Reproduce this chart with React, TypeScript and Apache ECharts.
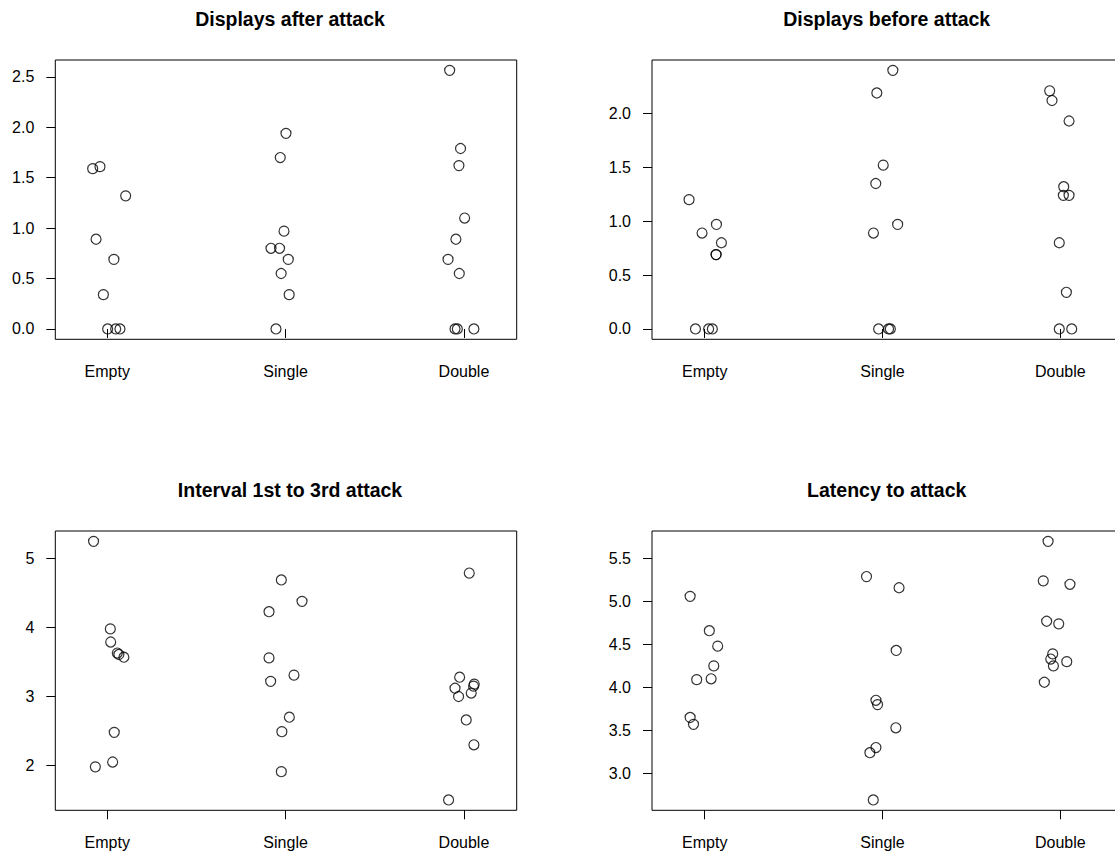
import React, { useEffect, useRef } from "react";
import * as echarts from "echarts";

const categories = ["Empty", "Single", "Double"];

const titles = [
  "Displays after attack",
  "Displays before attack",
  "Interval 1st to 3rd attack",
  "Latency to attack",
];

// values per group (Empty, Single, Double)
const afterAttackY = [
  [1.59, 1.61, 1.32, 0.89, 0.69, 0.34, 0, 0, 0],
  [1.94, 1.7, 0.97, 0.8, 0.8, 0.69, 0.55, 0.34, 0],
  [2.565, 1.79, 1.62, 1.1, 0.89, 0.69, 0.55, 0, 0, 0],
];
const afterAttackJitter = [
  [-0.082, -0.041, 0.103, -0.063, 0.037, -0.022, 0.002, 0.047, 0.071],
  [0.002, -0.03, -0.009, -0.082, -0.034, 0.015, -0.025, 0.02, -0.054],
  [-0.08, -0.019, -0.028, 0.004, -0.045, -0.089, -0.026, -0.05, -0.037, 0.056],
];

const beforeAttackY = [
  [1.2, 0.89, 0.97, 0.8, 0.69, 0.69, 0, 0, 0],
  [2.4, 2.19, 1.52, 1.35, 0.89, 0.97, 0, 0, 0],
  [2.21, 2.12, 1.93, 1.32, 1.24, 1.24, 0.8, 0.34, 0, 0],
];
const beforeAttackJitter = [
  [-0.088, -0.015, 0.066, 0.094, 0.064, 0.064, -0.052, 0.022, 0.043],
  [0.058, -0.032, 0.004, -0.038, -0.051, 0.085, -0.022, 0.034, 0.044],
  [-0.06, -0.047, 0.049, 0.019, 0.017, 0.049, -0.006, 0.034, -0.006, 0.064],
];

const intervalY = [
  [5.25, 3.98, 3.79, 3.63, 3.61, 3.57, 2.48, 2.05, 1.98],
  [4.69, 4.38, 4.23, 3.56, 3.22, 3.31, 2.7, 2.49, 1.91],
  [4.79, 3.28, 3.12, 3.0, 3.18, 3.15, 3.05, 2.66, 2.3, 1.5],
];
const intervalJitter = [
  [-0.077, 0.017, 0.019, 0.056, 0.065, 0.093, 0.039, 0.03, -0.067],
  [-0.024, 0.092, -0.093, -0.093, -0.084, 0.047, 0.021, -0.021, -0.024],
  [0.03, -0.024, -0.05, -0.03, 0.058, 0.054, 0.041, 0.013, 0.056, -0.086],
];

const latencyY = [
  [5.06, 4.66, 4.48, 4.25, 4.09, 4.1, 3.65, 3.57],
  [5.29, 5.16, 4.43, 3.85, 3.8, 3.53, 3.3, 3.24, 2.69],
  [5.7, 5.24, 5.2, 4.77, 4.74, 4.39, 4.33, 4.25, 4.3, 4.06],
];
const latencyJitter = [
  [-0.082, 0.026, 0.073, 0.051, -0.045, 0.036, -0.082, -0.063],
  [-0.09, 0.093, 0.077, -0.037, -0.028, 0.075, -0.037, -0.071, -0.052],
  [-0.069, -0.096, 0.054, -0.077, -0.009, -0.043, -0.054, -0.039, 0.036, -0.09],
];

const afterTicks = [0, 0.5, 1, 1.5, 2, 2.5];
const beforeTicks = [0, 0.5, 1, 1.5, 2];
const intervalTicks = [2, 3, 4, 5];
const latencyTicks = [3, 3.5, 4, 4.5, 5, 5.5];

const FONT = "'Liberation Sans', Arial, Helvetica, sans-serif";

const panels = [
  { y: afterAttackY, j: afterAttackJitter, ticks: afterTicks, dec: 1 },
  { y: beforeAttackY, j: beforeAttackJitter, ticks: beforeTicks, dec: 1 },
  { y: intervalY, j: intervalJitter, ticks: intervalTicks, dec: 0 },
  { y: latencyY, j: latencyJitter, ticks: latencyTicks, dec: 1 },
];

// right-hand panels run past the right edge of the picture (as in the reference);
// the chart canvas is a little wider than the window and the overflow is hidden
const layout = [
  { left: 55.3, top: 60, width: 461.4, xmin: 0.7084, xmax: 3.296, tx: 290, ty: 18.5 },
  { left: 652, top: 60, width: 464, xmin: 0.7036, xmax: 3.313, tx: 886.7, ty: 18.5 },
  { left: 55.3, top: 531, width: 461.4, xmin: 0.7084, xmax: 3.296, tx: 290, ty: 489.5 },
  { left: 652, top: 531, width: 464, xmin: 0.7036, xmax: 3.313, tx: 886.7, ty: 489.5 },
];
const PLOT_H = 279.3;

export default function App() {
  const ref = useRef<HTMLDivElement>(null);

  useEffect(() => {
    document.body.style.margin = "0";
    document.body.style.overflow = "hidden";
    document.documentElement.style.overflow = "hidden";
    if (!ref.current) return;
    const chart = echarts.init(ref.current, null, { renderer: "svg" });

    const grid: any[] = [];
    const xAxis: any[] = [];
    const yAxis: any[] = [];
    const series: any[] = [];
    const graphic: any[] = [];

    panels.forEach((p, i) => {
      const L = layout[i];
      const all = p.y.flat();
      const lo = Math.min(...all);
      const hi = Math.max(...all);
      const pad = (hi - lo) * 0.04;

      grid.push({
        left: L.left,
        top: L.top,
        width: L.width,
        height: PLOT_H,
        show: true,
        borderColor: "#000",
        borderWidth: 1,
        backgroundColor: "transparent",
        containLabel: false,
      });

      xAxis.push({
        type: "value",
        gridIndex: i,
        min: L.xmin,
        max: L.xmax,
        axisLine: { show: false },
        splitLine: { show: false },
        axisTick: {
          show: true,
          inside: false,
          length: 9,
          customValues: [1, 2, 3],
          lineStyle: { color: "#000", width: 1 },
        },
        axisLabel: {
          show: true,
          customValues: [1, 2, 3],
          formatter: (v: number) => categories[Math.round(v) - 1] ?? "",
          color: "#000",
          fontFamily: FONT,
          fontSize: 16,
          margin: 24,
        },
      });

      yAxis.push({
        type: "value",
        gridIndex: i,
        min: lo - pad,
        max: hi + pad,
        axisLine: { show: false },
        splitLine: { show: false },
        axisTick: {
          show: true,
          inside: false,
          length: 9,
          customValues: p.ticks,
          lineStyle: { color: "#000", width: 1 },
        },
        axisLabel: {
          show: true,
          customValues: p.ticks,
          formatter: (v: number) => v.toFixed(p.dec),
          color: "#000",
          fontFamily: FONT,
          fontSize: 16,
          margin: 21,
        },
      });

      const data: number[][] = [];
      p.y.forEach((grp, g) => {
        grp.forEach((v, k) => {
          data.push([g + 1 + p.j[g][k], v]);
        });
      });

      series.push({
        type: "scatter",
        xAxisIndex: i,
        yAxisIndex: i,
        data,
        symbol: "circle",
        symbolSize: 10,
        itemStyle: {
          color: "rgba(0,0,0,0)",
          borderColor: "#000",
          borderWidth: 1.2,
        },
        emphasis: { disabled: true },
        silent: true,
      });

      graphic.push({
        type: "text",
        x: L.tx,
        y: L.ty,
        style: {
          text: titles[i],
          fill: "#000",
          font: `bold 19.5px ${FONT}`,
          textAlign: "center",
          textVerticalAlign: "middle",
        },
      });
    });

    chart.setOption({
      animation: false,
      backgroundColor: "#fff",
      grid,
      xAxis,
      yAxis,
      series,
      graphic,
    });

    return () => chart.dispose();
  }, []);

  return (
    <div style={{ width: 1115, height: 855, overflow: "hidden" }}>
      <div ref={ref} style={{ width: 1130, height: 855 }} />
    </div>
  );
}
